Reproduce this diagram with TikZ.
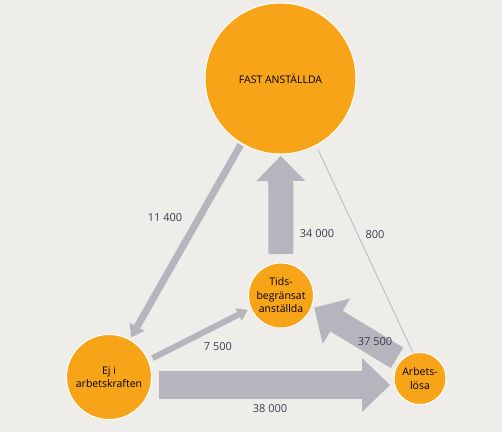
\documentclass[tikz,border=0pt]{standalone}
\usepackage{fontspec}
\setmainfont{Open Sans}
\usetikzlibrary{calc,arrows.meta}

\definecolor{bgpaper}{HTML}{EEEDEA}
\definecolor{flowor}{HTML}{F7A418}
\definecolor{flowgray}{HTML}{B6B5BE}
\definecolor{numtxt}{HTML}{3C3C50}

\tikzset{
  state/.style={circle, fill=flowor, draw=white, line width=1pt, inner sep=0pt,
    outer sep=0pt, align=center, font=\fontsize{10.5}{13.5}\selectfont},
  flow/.style={draw=flowgray, line width=#1},
  num/.style={text=numtxt, font=\fontsize{11}{13}\selectfont},
}

\begin{document}
\begin{tikzpicture}[x=1pt, y=-1pt]
  \fill[bgpaper] (0,0) rectangle (502,432);
  \useasboundingbox (0,0) rectangle (502,432);

  \node[state, minimum size=151pt](fast) at (280.5,78.5){FAST ANSTÄLLDA};
  \node[state, minimum size=65pt](tids) at (281,295.5){Tids-\\begränsat\\anställda};
  \node[state, minimum size=85pt](ej) at (109,377){Ej i\\arbetskraften};
  \node[state, minimum size=52pt](arb) at (420,378.5){Arbets-\\lösa};

  \draw[flow=25pt, -{Triangle[length=25pt, width=49pt, line width=0pt]},
    shorten <=9pt, shorten >=2pt] (tids) -- (fast);
  \draw[flow=28pt, -{Triangle[length=28pt, width=54pt, line width=0pt]}]
    ($(ej.east)+(7.5,8)$) -- ($(arb.west)+(-4,6.5)$);
  \draw[flow=24pt, -{Triangle[length=26pt, width=53pt, line width=0pt]},
    shorten <=5pt, shorten >=3pt] (arb.136) -- (tids.-19);
  \draw[flow=7pt, -{Triangle[length=12pt, width=17pt, line width=0pt]},
    shorten <=2pt, shorten >=3pt] (fast.239) -- (ej.61);
  \draw[flow=6pt, -{Triangle[length=10pt, width=14pt, line width=0pt]},
    shorten <=5pt, shorten >=4pt] (ej.23) -- (tids.203);
  \draw[flow=0.8pt, shorten <=5pt] (fast.-62) -- (arb.105);

  \node[num](n11400) at (165,218){11 400};
  \node[num](n34000) at (317,234){34 000};
  \node[num](n800) at (375,235){800};
  \node[num](n7500) at (218,347){7 500};
  \node[num](n37500) at (375,342){37 500};
  \node[num](n38000) at (270,409){38 000};
\end{tikzpicture}
\end{document}
